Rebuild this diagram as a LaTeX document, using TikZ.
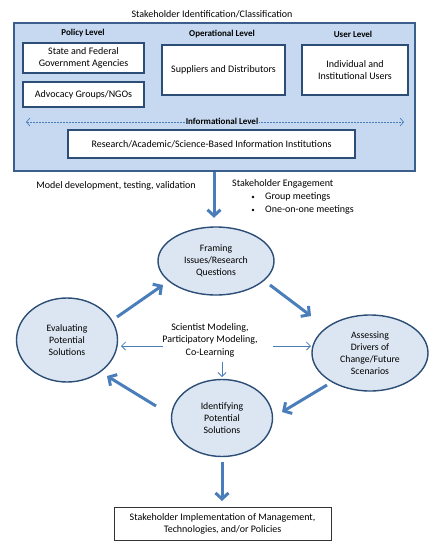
\documentclass[tikz,border=0pt]{standalone}
\usepackage{fontspec}
\setmainfont{Carlito}
\usetikzlibrary{arrows.meta,shapes.geometric}
\definecolor{boxfill}{HTML}{C6D9F1}
\definecolor{boxline}{HTML}{3B5F8C}
\definecolor{ellfill}{HTML}{DCE6F2}
\definecolor{ellline}{HTML}{2C4D75}
\definecolor{arrowblue}{HTML}{4A7EBB}
\tikzset{
  whitebox/.style={draw=ellline,line width=1.4pt,fill=white,align=center,inner sep=0pt,font=\fontsize{10}{12.5}\selectfont},
  lvl/.style={font=\bfseries\fontsize{9}{11}\selectfont},
  cyc/.style={ellipse,draw=ellline,line width=1.4pt,fill=ellfill,align=center,inner sep=0pt,font=\fontsize{9.8}{12}\selectfont},
  thick arrow/.style={draw=arrowblue,line width=3pt,-{Straight Barb[length=6pt,width=13pt,line width=3pt]}},
  thin arrow/.style={draw=arrowblue,line width=0.8pt,-{Straight Barb[length=4pt,width=8pt]}},
  plain/.style={font=\fontsize{10}{12.5}\selectfont,align=center,inner sep=0pt}
}
\begin{document}
\begin{tikzpicture}[x=1pt,y=-1pt]
\useasboundingbox (0,0) rectangle (436,550);
\node[plain] (title) at (212,14) {Stakeholder Identification/Classification};
\node[draw=boxline,line width=1.6pt,fill=boxfill,minimum width=401pt,minimum height=148pt,inner sep=0pt] (big) at (214.5,97) {};
\node[lvl] (pol) at (83,33) {Policy Level};
\node[lvl] (ope) at (222,34) {Operational Level};
\node[lvl] (usr) at (353,34) {User Level};
\node[whitebox,minimum width=121pt,minimum height=30pt] (state) at (83.5,58) {State and Federal\\Government Agencies};
\node[whitebox,minimum width=121pt,minimum height=25pt] (adv) at (83.5,94.5) {Advocacy Groups/NGOs};
\node[whitebox,minimum width=123pt,minimum height=50pt] (sup) at (223.5,70) {Suppliers and Distributors};
\node[whitebox,minimum width=106pt,minimum height=50pt] (ind) at (355,70) {Individual and\\Institutional Users};
\coordinate (il) at (26,122);
\coordinate (ir) at (404,122);
\draw[draw=arrowblue,line width=0.7pt,dashed,dash pattern=on 2pt off 1pt,{Straight Barb[length=3.5pt,width=8pt]}-{Straight Barb[length=3.5pt,width=8pt]}] (il) -- (ir);
\node[lvl,fill=boxfill,inner sep=1pt] (inf) at (222,121.5) {Informational Level};
\node[whitebox,minimum width=287pt,minimum height=28pt] (res) at (211.5,144) {Research/Academic/Science-Based Information Institutions};
\node[plain] (model) at (116,186) {Model development, testing, validation};
\node[plain,anchor=west] (eng) at (232,184) {Stakeholder Engagement};
\node[plain,anchor=west] (g1) at (265,197) {Group meetings};
\node[plain,anchor=west] (g2) at (265,210) {One-on-one meetings};
\node[circle,fill=black,inner sep=0pt,minimum size=2.8pt] (b1) at (253,197) {};
\node[circle,fill=black,inner sep=0pt,minimum size=2.8pt] (b2) at (253,210) {};
\node[cyc,minimum width=116pt,minimum height=68pt] (fr) at (216,261) {Framing\\Issues/Research\\Questions};
\node[cyc,minimum width=101pt,minimum height=84pt] (ev) at (67,340) {Evaluating\\Potential\\Solutions};
\node[cyc,minimum width=116pt,minimum height=76pt] (as) at (370,353) {Assessing\\Drivers of\\Change/Future\\Scenarios};
\node[cyc,minimum width=101pt,minimum height=77pt] (id) at (222,418) {Identifying\\Potential\\Solutions};
\node[plain] (sci) at (210,340) {Scientist Modeling,\\Participatory Modeling,\\Co-Learning};
\node[draw=black!80,line width=0.8pt,fill=white,minimum width=217pt,minimum height=33pt,align=center,inner sep=0pt,font=\fontsize{10}{12}\selectfont] (impl) at (222.5,523.5) {Stakeholder Implementation of Management,\\Technologies, and/or Policies};
% thick arrows
\draw[thick arrow] (big.south -| 214,0) -- ++(0,46) coordinate (d1);
\coordinate (a1s) at (117,317); \coordinate (a1e) at (163,285);
\coordinate (a2s) at (270,285); \coordinate (a2e) at (311,316);
\coordinate (a3s) at (327,385); \coordinate (a3e) at (282,412);
\coordinate (a4s) at (156,406); \coordinate (a4e) at (107,376);
\draw[thick arrow] (a1s) -- (a1e);
\draw[thick arrow] (a2s) -- (a2e);
\draw[thick arrow] (a3s) -- (a3e);
\draw[thick arrow] (a4s) -- (a4e);
\draw[thick arrow] (id.south) ++(0,5) coordinate (d2s) -- (d2s |- 0,501);
% thin arrows
\coordinate (tl) at (163,346); \coordinate (tr) at (273,346);
\draw[thin arrow] (tl) -- (121,346);
\draw[thin arrow] (tr) -- (311,346);
\draw[thin arrow] (222,362) -- (222,377);
\end{tikzpicture}
\end{document}
